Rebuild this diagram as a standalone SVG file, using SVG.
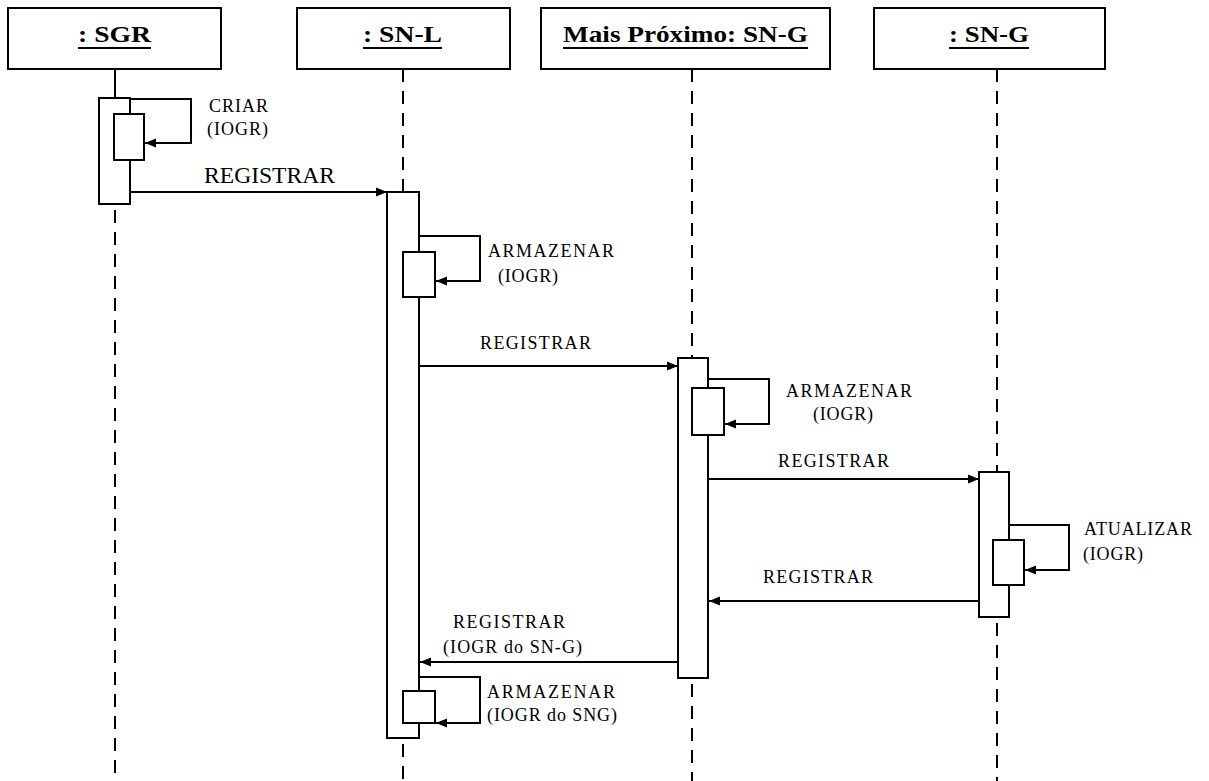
<svg xmlns="http://www.w3.org/2000/svg" width="1209" height="781" viewBox="0 0 1209 781">
  <style>
    .box { fill: #ffffff; stroke: #000000; stroke-width: 2; }
    .act { fill: #ffffff; stroke: #000000; stroke-width: 2; }
    .life { stroke: #000000; stroke-width: 2; fill: none; }
    .dash { stroke: #000000; stroke-width: 2; fill: none; stroke-dasharray: 13 9; }
    .msg { stroke: #000000; stroke-width: 2; fill: none; marker-end: url(#arrow); }
    .head { font-family: "Liberation Serif", "Times New Roman", serif; font-weight: bold; font-size: 23px; fill: #000000; }
    .ul { stroke: #000000; stroke-width: 2; }
    .lbl { font-family: "Liberation Serif", "Times New Roman", serif; font-size: 18px; fill: #000000; }
    .lblbig { font-family: "Liberation Serif", "Times New Roman", serif; font-size: 22.5px; fill: #000000; }
  </style>
  <defs>
    <marker id="arrow" markerUnits="userSpaceOnUse" markerWidth="12" markerHeight="12" refX="11" refY="6" orient="auto">
      <path d="M0,1.5 L11,6 L0,10.5 z" fill="#000000"/>
    </marker>
  </defs>

  <rect x="0" y="0" width="1209" height="781" fill="#ffffff"/>

  <!-- lifelines (behind everything) -->
  <g id="lifelines">
    <line class="life" x1="115" y1="69" x2="115" y2="98"/>
    <line class="dash" x1="115" y1="210" x2="115" y2="781"/>
    <line class="dash" x1="403" y1="69" x2="403" y2="192"/>
    <line class="dash" x1="403" y1="744" x2="403" y2="781"/>
    <line class="dash" x1="692" y1="69" x2="692" y2="358"/>
    <line class="dash" x1="692" y1="684" x2="692" y2="781"/>
    <line class="dash" x1="997" y1="69" x2="997" y2="472"/>
    <line class="dash" x1="997" y1="623" x2="997" y2="781"/>
  </g>

  <!-- object : SGR -->
  <g id="sgr">
    <rect class="box" x="8" y="8" width="213" height="61"/>
    <text class="head" x="78" y="42" textLength="73" lengthAdjust="spacingAndGlyphs">: SGR</text>
    <line class="ul" x1="78" y1="48" x2="151" y2="48"/>
    <rect class="act" x="99" y="98" width="31" height="106"/>
  </g>

  <!-- object : SN-L -->
  <g id="snl">
    <rect class="box" x="297" y="8" width="213" height="61"/>
    <text class="head" x="363" y="42" textLength="79" lengthAdjust="spacingAndGlyphs">: SN-L</text>
    <line class="ul" x1="363" y1="48" x2="442" y2="48"/>
    <rect class="act" x="387" y="192" width="32" height="546"/>
  </g>

  <!-- object Mais Próximo: SN-G -->
  <g id="mais-proximo">
    <rect class="box" x="541" y="8" width="289" height="61"/>
    <text class="head" x="563" y="42" textLength="245" lengthAdjust="spacingAndGlyphs">Mais Próximo: SN-G</text>
    <line class="ul" x1="563" y1="48" x2="808" y2="48"/>
    <rect class="act" x="678" y="358" width="30" height="320"/>
  </g>

  <!-- object : SN-G -->
  <g id="sng">
    <rect class="box" x="874" y="8" width="231" height="61"/>
    <text class="head" x="949" y="42" textLength="80" lengthAdjust="spacingAndGlyphs">: SN-G</text>
    <line class="ul" x1="949" y1="48" x2="1029" y2="48"/>
    <rect class="act" x="979" y="472" width="30" height="145"/>
  </g>

  <!-- messages -->
  <g id="connectors">
    <!-- CRIAR (self call on SGR) -->
    <polyline class="msg" points="130,99 191,99 191,143 145,143"/>
    <rect class="act" x="114" y="114" width="30" height="46"/>
    <text class="lbl" x="209" y="112" textLength="59" lengthAdjust="spacing">CRIAR</text>
    <text class="lbl" x="207" y="135" textLength="61" lengthAdjust="spacing">(IOGR)</text>

    <!-- REGISTRAR SGR -> SN-L -->
    <line class="msg" x1="130" y1="192" x2="387" y2="192"/>
    <text class="lblbig" x="204" y="183" textLength="131" lengthAdjust="spacingAndGlyphs">REGISTRAR</text>

    <!-- ARMAZENAR on SN-L -->
    <polyline class="msg" points="419,236 480,236 480,281 436,281"/>
    <rect class="act" x="403" y="252" width="32" height="45"/>
    <text class="lbl" x="488" y="257" textLength="126" lengthAdjust="spacing">ARMAZENAR</text>
    <text class="lbl" x="498" y="282" textLength="60" lengthAdjust="spacing">(IOGR)</text>

    <!-- REGISTRAR SN-L -> Mais Próximo -->
    <line class="msg" x1="419" y1="366" x2="678" y2="366"/>
    <text class="lbl" x="480" y="349" textLength="111" lengthAdjust="spacing">REGISTRAR</text>

    <!-- ARMAZENAR on Mais Próximo -->
    <polyline class="msg" points="708,379 769,379 769,424 725,424"/>
    <rect class="act" x="692" y="388" width="32" height="47"/>
    <text class="lbl" x="786" y="397" textLength="126" lengthAdjust="spacing">ARMAZENAR</text>
    <text class="lbl" x="813" y="420" textLength="60" lengthAdjust="spacing">(IOGR)</text>

    <!-- REGISTRAR Mais Próximo -> SN-G -->
    <line class="msg" x1="708" y1="479" x2="979" y2="479"/>
    <text class="lbl" x="778" y="467" textLength="111" lengthAdjust="spacing">REGISTRAR</text>

    <!-- ATUALIZAR on SN-G -->
    <polyline class="msg" points="1009,525 1069,525 1069,570 1025,570"/>
    <rect class="act" x="993" y="540" width="31" height="45"/>
    <text class="lbl" x="1084" y="535" textLength="108" lengthAdjust="spacing">ATUALIZAR</text>
    <text class="lbl" x="1083" y="560" textLength="60" lengthAdjust="spacing">(IOGR)</text>

    <!-- REGISTRAR SN-G -> Mais Próximo -->
    <line class="msg" x1="979" y1="601" x2="709" y2="601"/>
    <text class="lbl" x="763" y="583" textLength="110" lengthAdjust="spacing">REGISTRAR</text>

    <!-- REGISTRAR Mais Próximo -> SN-L -->
    <line class="msg" x1="678" y1="662" x2="420" y2="662"/>
    <text class="lbl" x="453" y="628" textLength="112" lengthAdjust="spacing">REGISTRAR</text>
    <text class="lbl" x="443" y="653" textLength="139" lengthAdjust="spacing">(IOGR do SN-G)</text>

    <!-- ARMAZENAR on SN-L -->
    <polyline class="msg" points="419,677 480,677 480,723 436,723"/>
    <rect class="act" x="403" y="691" width="32" height="32"/>
    <text class="lbl" x="487" y="698" textLength="128" lengthAdjust="spacing">ARMAZENAR</text>
    <text class="lbl" x="487" y="721" textLength="130" lengthAdjust="spacing">(IOGR do SNG)</text>
  </g>
</svg>
